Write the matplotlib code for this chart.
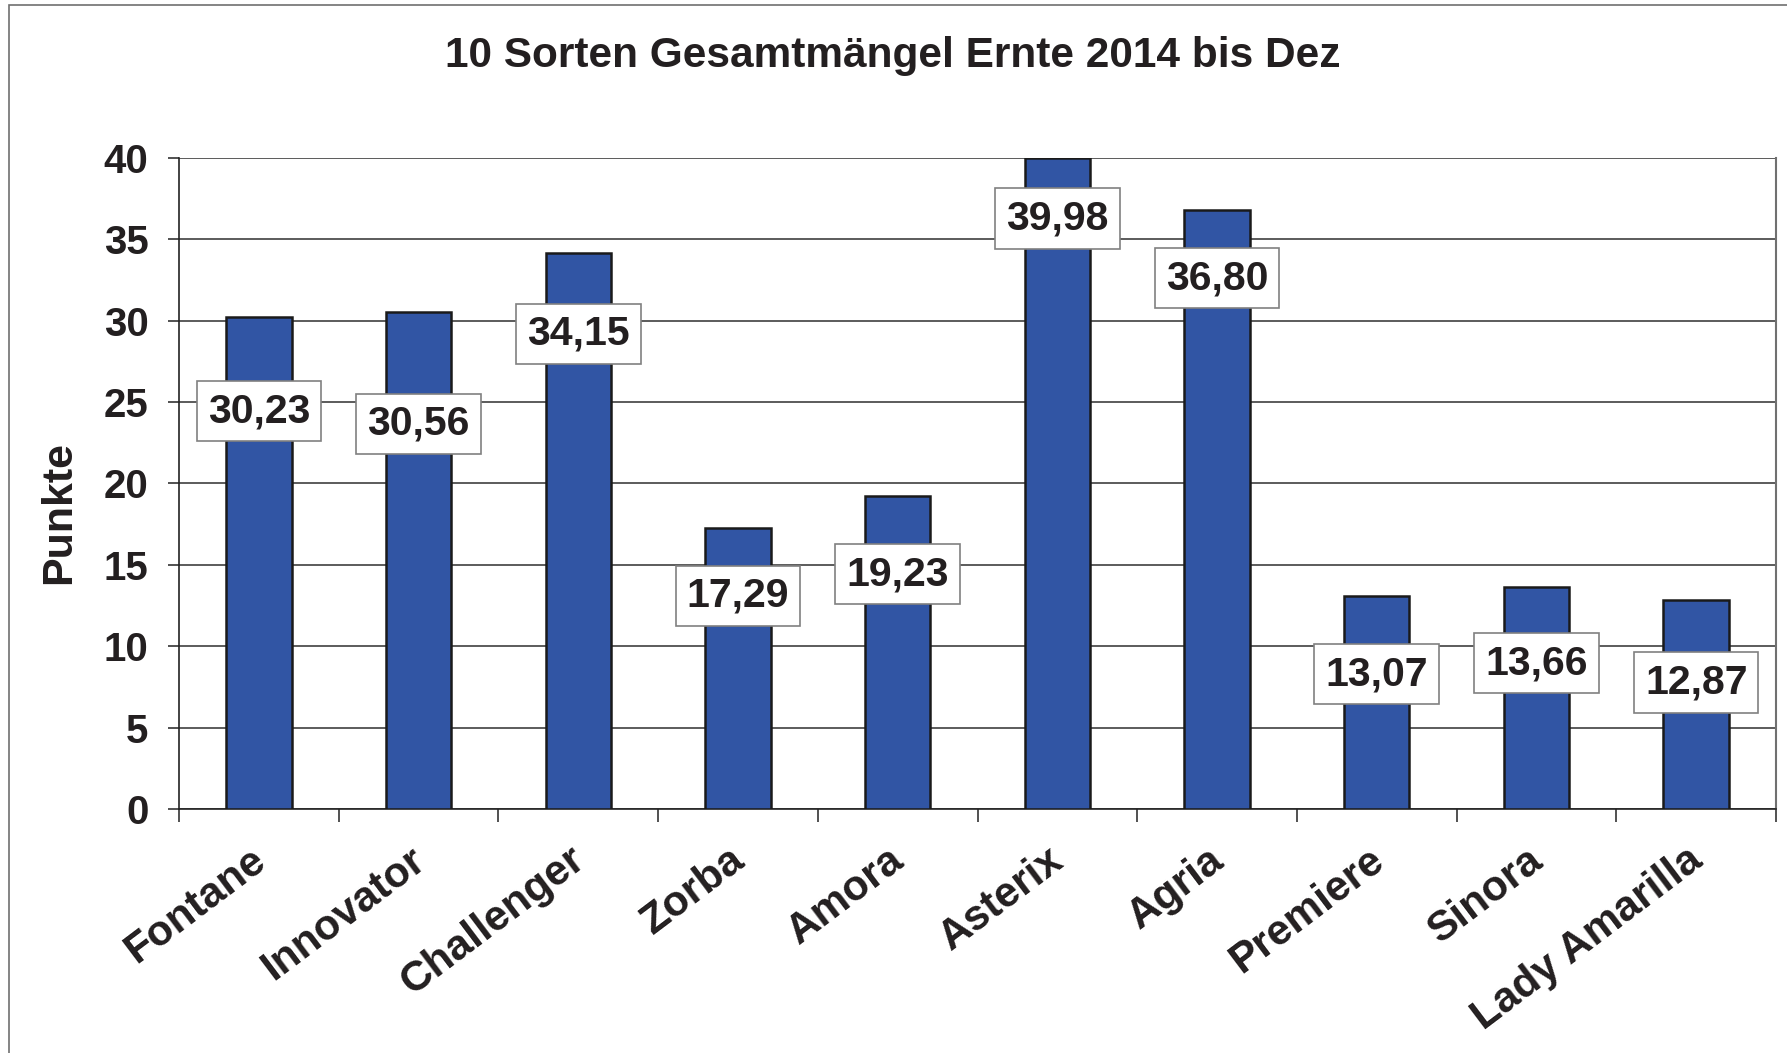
import matplotlib
matplotlib.use("Agg")
import matplotlib.pyplot as plt
from matplotlib.patches import Rectangle
from matplotlib.transforms import ScaledTranslation
import numpy as np

categories = ["Fontane", "Innovator", "Challenger", "Zorba", "Amora",
              "Asterix", "Agria", "Premiere", "Sinora", "Lady Amarilla"]
values = [30.23, 30.56, 34.15, 17.29, 19.23, 39.98, 36.80, 13.07, 13.66, 12.87]
value_labels = ["30,23", "30,56", "34,15", "17,29", "19,23",
                "39,98", "36,80", "13,07", "13,66", "12,87"]
y_ticks = [0, 5, 10, 15, 20, 25, 30, 35, 40]
title = "10 Sorten Gesamtmängel Ernte 2014 bis Dez"
y_label = "Punkte"

# label placement below bar tops (in data units), layout only
label_drop = [5.8, 6.9, 4.95, 4.2, 4.8, 3.7, 4.2, 4.8, 4.7, 5.1]

plt.rcParams['font.family'] = ['Liberation Sans', 'DejaVu Sans']
plt.rcParams['font.weight'] = 'bold'

W, H = 1787, 1053
fig = plt.figure(figsize=(W / 100, H / 100), dpi=100)
fig.patch.set_facecolor("white")

# outer chart border (left/top visible, right/bottom cut off)
fig.patches.append(Rectangle((9 / W, -0.2), 2.0, 1.2 - 5 / H, transform=fig.transFigure,
                             fill=False, edgecolor="#707070", linewidth=1.2))

ax = fig.add_axes([179 / W, 1 - 809 / H, (1776 - 179) / W, (809 - 158) / H])

x = np.arange(len(categories))
ax.bar(x, values, width=0.41, color="#3155A4", edgecolor="#1a1a1a", linewidth=1.8, zorder=3)

ax.set_xlim(-0.5, len(categories) - 0.5)
ax.set_ylim(0, 40)
ax.set_yticks(y_ticks)
ax.set_yticklabels([str(t) for t in y_ticks], fontsize=29, fontweight='bold', color="#231f20")
ax.yaxis.grid(True, color="#404040", linewidth=1.2, zorder=0)
ax.set_axisbelow(True)

ax.set_xticks(x)
ax.set_xticklabels(categories, rotation=37, ha='right', va='top', rotation_mode='anchor',
                   fontsize=30.5, fontweight='bold', color="#231f20")
ax.tick_params(axis='x', which='major', length=0, pad=22)
ax.set_xticks(np.arange(-0.5, len(categories)), minor=True)
ax.tick_params(axis='x', which='minor', length=9, width=1.2, color="#333333", direction='out')
ax.tick_params(axis='y', length=8, width=1.2, color="#333333", direction='out', pad=14)

shift = ScaledTranslation(-7 / 72, 0, fig.dpi_scale_trans)
for lbl in ax.get_xticklabels():
    lbl.set_transform(lbl.get_transform() + shift)

ax.spines['top'].set_visible(False)
ax.spines['left'].set_color("#222222")
ax.spines['left'].set_linewidth(1.2)
ax.spines['bottom'].set_color("#222222")
ax.spines['bottom'].set_linewidth(1.2)
ax.spines['right'].set_color("#707070")
ax.spines['right'].set_linewidth(1.5)

fig.text(59 / W, 1 - 513 / H, y_label, rotation=90, ha='center', va='center',
         fontsize=31, fontweight='bold', color="#231f20")

for xi, v, lab, d in zip(x, values, value_labels, label_drop):
    ax.text(xi, v - d, lab, ha='center', va='center', fontsize=29.5, fontweight='bold',
            color="#231f20", zorder=5,
            bbox=dict(boxstyle='square,pad=0.27', facecolor='white', edgecolor='#808080', linewidth=1.2))

fig.text(893 / W, 1 - 56 / H, title, ha='center', va='center', fontsize=30.5,
         fontweight='bold', color="#231f20")

fig.savefig("out.png", dpi=100)
